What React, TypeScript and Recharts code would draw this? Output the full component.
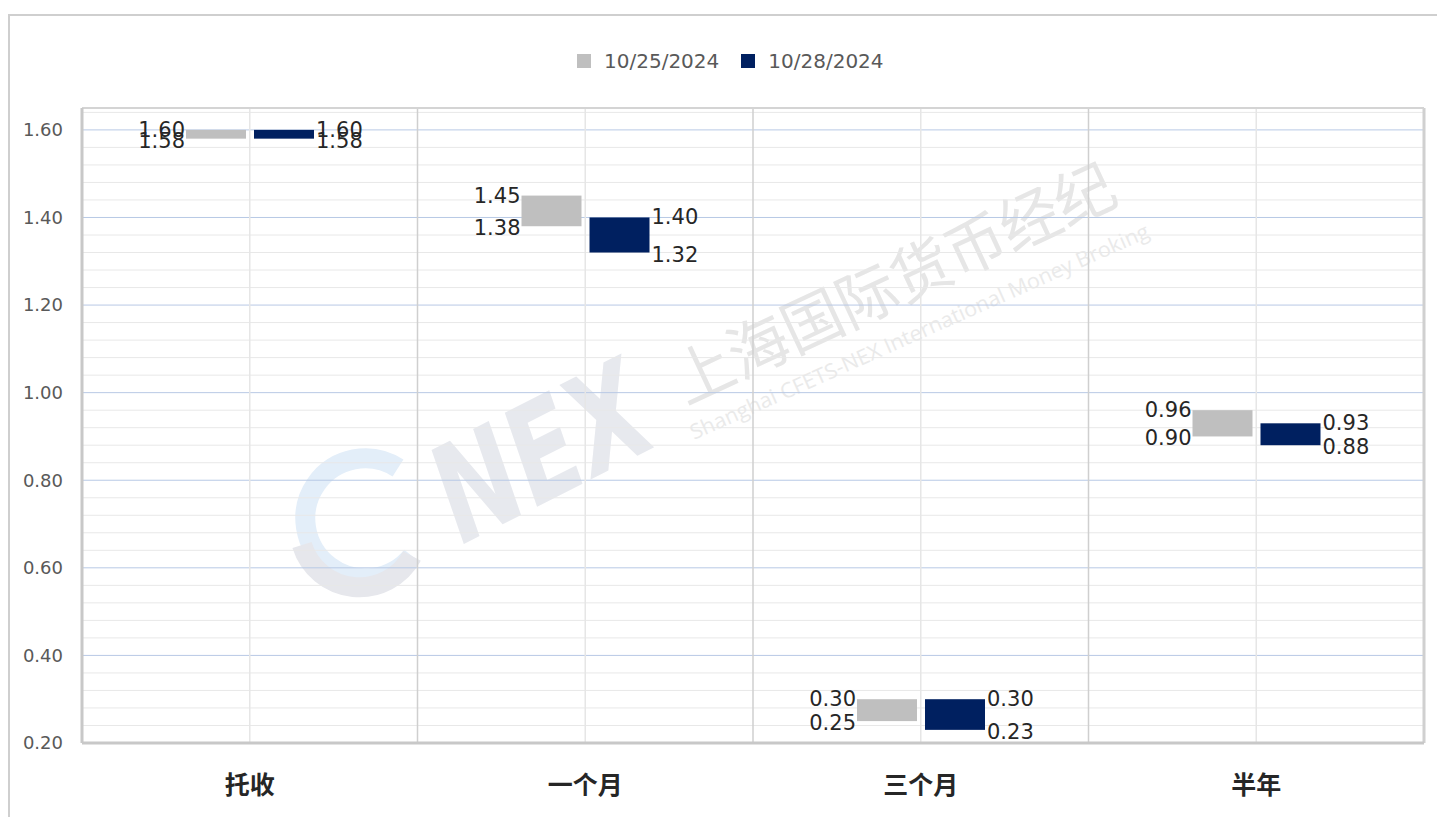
import React from 'react';
import { BarChart, Bar, XAxis, YAxis, CartesianGrid, ReferenceLine } from 'recharts';

const categories = ['托收', '一个月', '三个月', '半年'];
const seriesNames = ['10/25/2024', '10/28/2024'];
const low1025 = [1.58, 1.38, 0.25, 0.9];
const high1025 = [1.6, 1.45, 0.3, 0.96];
const low1028 = [1.58, 1.32, 0.23, 0.88];
const high1028 = [1.6, 1.4, 0.3, 0.93];
const yTicks = [0.2, 0.4, 0.6, 0.8, 1.0, 1.2, 1.4, 1.6];
const minorTicks = [
  0.24, 0.28, 0.32, 0.36, 0.44, 0.48, 0.52, 0.56, 0.64, 0.68, 0.72, 0.76,
  0.84, 0.88, 0.92, 0.96, 1.04, 1.08, 1.12, 1.16, 1.24, 1.28, 1.32, 1.36,
  1.44, 1.48, 1.52, 1.56, 1.64,
];
const yDomain = [0.2, 1.65];
const colors = ['#bfbfbf', '#002060'];

const data = categories.map((name, i) => ({
  name,
  r1: [low1025[i], high1025[i]],
  r2: [low1028[i], high1028[i]],
  lo1: low1025[i],
  hi1: high1025[i],
  lo2: low1028[i],
  hi2: high1028[i],
}));

const LABEL_FONT = '"DejaVu Sans", sans-serif';

const makeShape = (side: 'left' | 'right', color: string, loKey: string, hiKey: string) => (props: any) => {
  const { x, y, width, height, payload } = props;
  const top = Math.min(y, y + height);
  const h = Math.abs(height);
  const lo = payload[loKey];
  const hi = payload[hiKey];
  const tx = side === 'left' ? x - 1 : x + width + 2;
  const anchor = side === 'left' ? 'end' : 'start';
  return (
    <g>
      <rect x={x} y={top} width={width} height={Math.max(h, 1)} fill={color} />
      <text x={tx} y={top} textAnchor={anchor} dominantBaseline="central" fontSize={21} fontFamily={LABEL_FONT} fill="#262626">
        {hi.toFixed(2)}
      </text>
      <text x={tx} y={top + h + 2} textAnchor={anchor} dominantBaseline="central" fontSize={21} fontFamily={LABEL_FONT} fill="#262626">
        {lo.toFixed(2)}
      </text>
    </g>
  );
};

const Watermark = () => (
  <svg width={1437} height={817} style={{ position: 'absolute', left: 0, top: 0 }}>
    <path d="M 398 468 A 60 60 0 1 0 412 556" fill="none" stroke="#e3eef9" strokeWidth={20} />
    <path d="M 302 545 A 60 60 0 0 0 412 556" fill="none" stroke="#e6e7ec" strokeWidth={20} />
    <text x={0} y={0} transform="translate(462,545) rotate(-27)" fontSize={135} fontWeight={900} fontStyle="italic" fontFamily='"DejaVu Sans", sans-serif' fill="#e7e9ee" textLength={225} lengthAdjust="spacingAndGlyphs">
      NEX
    </text>
    <text x={0} y={0} transform="translate(686,405) rotate(-25)" fontSize={62} fontFamily='"Noto Sans CJK SC", sans-serif' fill="#e6e6e6" textLength={480} lengthAdjust="spacingAndGlyphs">
      上海国际货币经纪
    </text>
    <text x={0} y={0} transform="translate(694,440) rotate(-24)" fontSize={21} fontFamily='"Open Sans", sans-serif' fill="#eaeaea" textLength={500} lengthAdjust="spacingAndGlyphs">
      Shanghai CFETS-NEX International Money Broking
    </text>
  </svg>
);

export default function App() {
  return (
    <div style={{ position: 'absolute', left: 0, top: 0, width: 1437, height: 817, overflow: 'hidden', background: '#fff' }}>
      <div style={{ position: 'absolute', left: 8, top: 14, width: 1500, height: 900, border: '2px solid #cfcfcf' }} />
      <Watermark />
      <div style={{ position: 'absolute', left: 577, top: 49, display: 'flex', alignItems: 'center', fontFamily: LABEL_FONT, fontSize: 20, color: '#595959' }}>
        {seriesNames.map((s, i) => (
          <div key={s} style={{ display: 'flex', alignItems: 'center', marginRight: 22 }}>
            <div style={{ width: 14, height: 14, background: colors[i], marginRight: 13 }} />
            <span>{s}</span>
          </div>
        ))}
      </div>
      <div style={{ position: 'absolute', left: 0, top: 0 }}>
        <BarChart width={1437} height={817} data={data} margin={{ top: 108, right: 13, bottom: 14, left: 10 }} barSize={60} barGap={8}>
          <CartesianGrid yAxisId="minor" vertical={false} stroke="#e8e8e8" />
          <CartesianGrid vertical={false} stroke="#b8c9e5" />
          <XAxis
            dataKey="name"
            tickLine={false}
            tickSize={0}
            tickMargin={33}
            axisLine={{ stroke: '#c8c8c8', strokeWidth: 3 }}
            tick={{ fontSize: 25, fontWeight: 700, fill: '#262626', fontFamily: '"Noto Sans CJK SC", sans-serif' }}
            height={60}
          />
          <YAxis
            domain={yDomain}
            allowDataOverflow
            ticks={yTicks}
            interval={0}
            tickFormatter={(v: number) => v.toFixed(2)}
            tickLine={false}
            tickSize={0}
            tickMargin={19}
            axisLine={{ stroke: '#c8c8c8', strokeWidth: 3 }}
            tick={{ fontSize: 18, fill: '#595959', fontFamily: LABEL_FONT }}
            width={72}
          />
          <YAxis yAxisId="minor" domain={yDomain} allowDataOverflow ticks={minorTicks} interval={0} hide />
          {categories.map((c) => (
            <ReferenceLine key={'c' + c} x={c} stroke="#e6e6e6" strokeWidth={1.5} />
          ))}
          {categories.slice(1).map((c) => (
            <ReferenceLine key={'b' + c} x={c} position="start" stroke="#cfcfcf" strokeWidth={1.5} />
          ))}
          <ReferenceLine x={categories[categories.length - 1]} position="end" stroke="#d0d0d0" strokeWidth={3} />
          <ReferenceLine y={1.65} stroke="#d4d4d4" strokeWidth={2} />
          <Bar dataKey="r1" name={seriesNames[0]} fill={colors[0]} isAnimationActive={false} shape={makeShape('left', colors[0], 'lo1', 'hi1')} />
          <Bar dataKey="r2" name={seriesNames[1]} fill={colors[1]} isAnimationActive={false} shape={makeShape('right', colors[1], 'lo2', 'hi2')} />
        </BarChart>
      </div>
    </div>
  );
}
